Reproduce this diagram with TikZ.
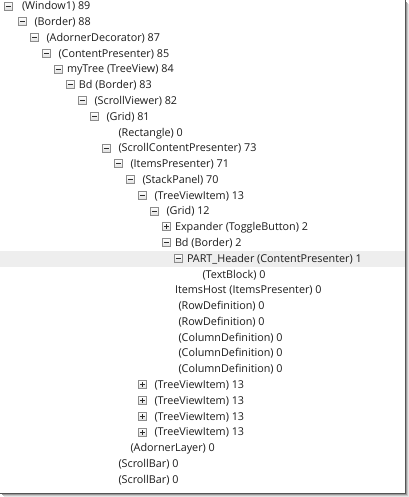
\documentclass[tikz,border=0pt]{standalone}
\usepackage{fontspec}
\setmainfont{Open Sans}
\begin{document}
\definecolor{txt}{HTML}{1C1C1C}
\definecolor{boxedge}{HTML}{8C8C8C}
\definecolor{signcol}{HTML}{2A2A2A}
\definecolor{selrow}{HTML}{EEEEEE}
\definecolor{frameline}{HTML}{555555}
\newcommand\rowfont{\fontsize{8.1}{10}\selectfont}
\tikzset{
  lbl/.style={anchor=base west, inner sep=0pt, outer sep=0pt, font=\rowfont, text=txt},
  exbox/.style={rectangle, draw=boxedge, line width=0.75pt, minimum size=6pt,
    inner sep=0pt, top color=white, bottom color=black!12},
  minusbox/.style={exbox, path picture={
    \draw[signcol, line width=0.75pt]
      ([xshift=-1.9pt]path picture bounding box.center) -- ([xshift=1.9pt]path picture bounding box.center);}},
  plusbox/.style={exbox, path picture={
    \draw[signcol, line width=0.75pt]
      ([xshift=-1.9pt]path picture bounding box.center) -- ([xshift=1.9pt]path picture bounding box.center)
      ([yshift=-1.9pt]path picture bounding box.center) -- ([yshift=1.9pt]path picture bounding box.center);}},
}
% one unit = one screen pixel, y grows downwards
\begin{tikzpicture}[x=0.75pt, y=-0.75pt]
  \useasboundingbox (0,0) rectangle (409,497);
  \fill[white] (0,0) rectangle (409,497);

  % selected row
  \fill[selrow] (0,251) rectangle (405,266.5);

  % window frame with drop shadow
  \draw[black!10, line width=0.75pt] (408.5,4) -- (408.5,496.5) -- (4,496.5);
  \draw[black!22, line width=0.75pt] (407.5,3) -- (407.5,495.5) -- (3,495.5);
  \draw[black!40, line width=0.75pt] (406.5,2) -- (406.5,494.5) -- (2,494.5);
  \draw[frameline, line width=1.1pt] (405.3,0) -- (405.3,493.3) -- (0,493.3);

  % expander boxes: (x of centre, row index)
  \node[minusbox] (b0)  at (8.5,   6+15.78*0)  {};
  \node[minusbox] (b1)  at (22.5,  6+15.78*1)  {};
  \node[minusbox] (b2)  at (34.5,  6+15.78*2)  {};
  \node[minusbox] (b3)  at (46.5,  6+15.78*3)  {};
  \node[minusbox] (b4)  at (58.5,  6+15.78*4)  {};
  \node[minusbox] (b5)  at (70.5,  6+15.78*5)  {};
  \node[minusbox] (b6)  at (82.5,  6+15.78*6)  {};
  \node[minusbox] (b7)  at (94.5,  6+15.78*7)  {};
  \node[minusbox] (b9)  at (106.5, 6+15.78*9)  {};
  \node[minusbox] (b10) at (118.5, 6+15.78*10) {};
  \node[minusbox] (b11) at (130.5, 6+15.78*11) {};
  \node[minusbox] (b12) at (142.5, 6+15.78*12) {};
  \node[minusbox] (b13) at (154.5, 6+15.78*13) {};
  \node[plusbox]  (b14) at (166.5, 6+15.78*14) {};
  \node[minusbox] (b15) at (166.5, 6+15.78*15) {};
  \node[minusbox] (b16) at (178.5, 6+15.78*16) {};
  \node[plusbox]  (b24) at (142.5, 6+15.78*24) {};
  \node[plusbox]  (b25) at (142.5, 6+15.78*25) {};
  \node[plusbox]  (b26) at (142.5, 6+15.78*26) {};
  \node[plusbox]  (b27) at (142.5, 6+15.78*27) {};

  % item labels, placed on their baselines
  \node[lbl] (t0)  at (22,    9.8+15.78*0)  {(Window1) 89};
  \node[lbl] (t1)  at (34.5,  9.8+15.78*1)  {(Border) 88};
  \node[lbl] (t2)  at (46.5,  9.8+15.78*2)  {(AdornerDecorator) 87};
  \node[lbl] (t3)  at (58.5,  9.8+15.78*3)  {(ContentPresenter) 85};
  \node[lbl] (t4)  at (67,    9.8+15.78*4)  {myTree (TreeView) 84};
  \node[lbl] (t5)  at (79,    9.8+15.78*5)  {Bd (Border) 83};
  \node[lbl] (t6)  at (94.5,  9.8+15.78*6)  {(ScrollViewer) 82};
  \node[lbl] (t7)  at (106.5, 9.8+15.78*7)  {(Grid) 81};
  \node[lbl] (t8)  at (118.5, 9.8+15.78*8)  {(Rectangle) 0};
  \node[lbl] (t9)  at (118.5, 9.8+15.78*9)  {(ScrollContentPresenter) 73};
  \node[lbl] (t10) at (130.5, 9.8+15.78*10) {(ItemsPresenter) 71};
  \node[lbl] (t11) at (142.5, 9.8+15.78*11) {(StackPanel) 70};
  \node[lbl] (t12) at (154.5, 9.8+15.78*12) {(TreeViewItem) 13};
  \node[lbl] (t13) at (166.5, 9.8+15.78*13) {(Grid) 12};
  \node[lbl] (t14) at (175,   9.8+15.78*14) {Expander (ToggleButton) 2};
  \node[lbl] (t15) at (175,   9.8+15.78*15) {Bd (Border) 2};
  \node[lbl] (t16) at (187,   9.8+15.78*16) {PART\_Header (ContentPresenter) 1};
  \node[lbl] (t17) at (202.5, 9.8+15.78*17) {(TextBlock) 0};
  \node[lbl] (t18) at (175,   9.8+15.78*18) {ItemsHost (ItemsPresenter) 0};
  \node[lbl] (t19) at (178.5, 9.8+15.78*19) {(RowDefinition) 0};
  \node[lbl] (t20) at (178.5, 9.8+15.78*20) {(RowDefinition) 0};
  \node[lbl] (t21) at (178.5, 9.8+15.78*21) {(ColumnDefinition) 0};
  \node[lbl] (t22) at (178.5, 9.8+15.78*22) {(ColumnDefinition) 0};
  \node[lbl] (t23) at (178.5, 9.8+15.78*23) {(ColumnDefinition) 0};
  \node[lbl] (t24) at (154.5, 9.8+15.78*24) {(TreeViewItem) 13};
  \node[lbl] (t25) at (154.5, 9.8+15.78*25) {(TreeViewItem) 13};
  \node[lbl] (t26) at (154.5, 9.8+15.78*26) {(TreeViewItem) 13};
  \node[lbl] (t27) at (154.5, 9.8+15.78*27) {(TreeViewItem) 13};
  \node[lbl] (t28) at (130.5, 9.8+15.78*28) {(AdornerLayer) 0};
  \node[lbl] (t29) at (118.5, 9.8+15.78*29) {(ScrollBar) 0};
  \node[lbl] (t30) at (118.5, 9.8+15.78*30) {(ScrollBar) 0};
\end{tikzpicture}
\end{document}
